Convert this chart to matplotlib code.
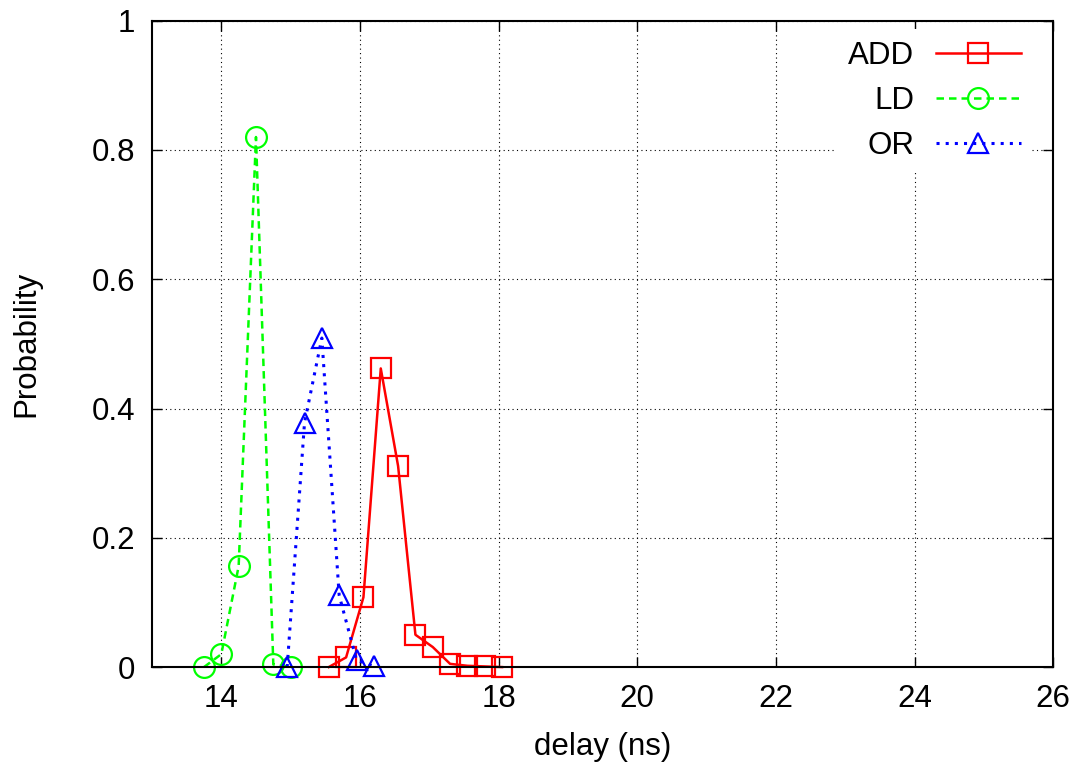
import numpy as np
import matplotlib
matplotlib.use("Agg")
import matplotlib.pyplot as plt

plt.rcParams['font.family'] = ['Liberation Sans', 'DejaVu Sans']

# delay (ns) / probability
add_x = [15.55, 15.8, 16.05, 16.3, 16.55, 16.8, 17.05, 17.3, 17.55, 17.8, 18.05]
add_y = [0.0, 0.015, 0.108, 0.462, 0.311, 0.05, 0.031, 0.005, 0.002, 0.001, 0.0]

ld_x = [13.75, 14.0, 14.25, 14.5, 14.75, 15.0]
ld_y = [0.0, 0.02, 0.156, 0.82, 0.004, 0.0]

or_x = [14.95, 15.2, 15.45, 15.7, 15.95, 16.2]
or_y = [0.0, 0.378, 0.509, 0.111, 0.011, 0.001]

fs = 22.5

fig = plt.figure(figsize=(10.78, 7.65), dpi=100)
ax = fig.add_axes([0.141, 0.128, 0.836, 0.845])

mk = dict(markersize=15, markerfacecolor='none', markeredgewidth=1.6, clip_on=False)
ax.plot(add_x, add_y, '-', color='#ff0000', lw=1.8, marker='s', markeredgecolor='#ff0000', label='ADD', **mk)
ax.plot(ld_x, ld_y, '--', color='#00ff00', lw=1.8, marker='o', markeredgecolor='#00ff00', label='LD',
        dashes=(3, 2), **mk)
ax.plot(or_x, or_y, ':', color='#0000ff', lw=2.2, marker='^', markeredgecolor='#0000ff', label='OR',
        dashes=(1, 2), **mk)

ax.set_xlim(13, 26)
ax.set_ylim(0, 1)
ax.set_xticks(np.arange(14, 27, 2))
ax.set_yticks([0, 0.2, 0.4, 0.6, 0.8, 1])
ax.set_yticklabels(['0', '0.2', '0.4', '0.6', '0.8', '1'])
ax.tick_params(direction='in', top=True, right=True, length=7, width=1, labelsize=fs, pad=12)
ax.grid(True, color='black', linestyle=(0, (1, 3)), linewidth=0.8)
for s in ax.spines.values():
    s.set_linewidth(1.5)

ax.set_xlabel('delay (ns)', fontsize=fs, labelpad=13)
ax.set_ylabel('Probability', fontsize=fs, labelpad=36)

leg = ax.legend(loc='upper right', bbox_to_anchor=(0.977, 0.987), markerfirst=False, frameon=True,
                fontsize=fs, handlelength=2.7, labelspacing=0.48, borderaxespad=0.0,
                borderpad=0.38, handletextpad=0.7, fancybox=False)
leg.get_frame().set_facecolor('white')
leg.get_frame().set_edgecolor('none')
leg.get_frame().set_alpha(1)
for t in leg.get_texts():
    t.set_ha('right')

fig.savefig('out.png', dpi=100)
